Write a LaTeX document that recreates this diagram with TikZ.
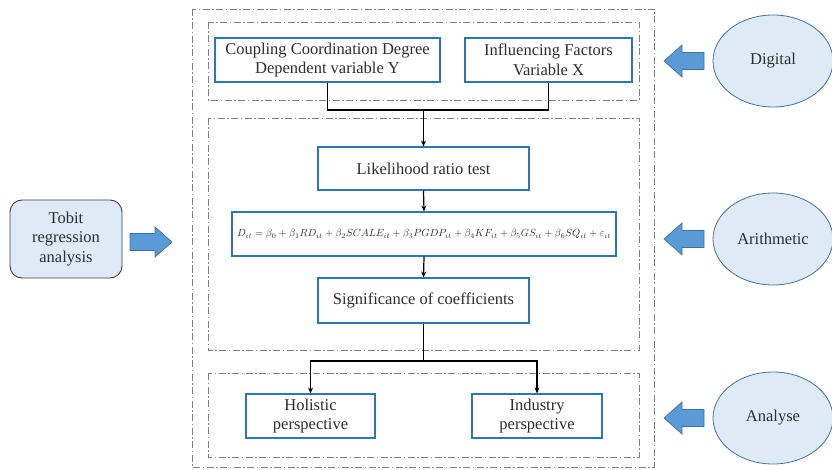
\documentclass[tikz,border=0pt]{standalone}
\usepackage{fontspec}
\usepackage{graphicx}
\setmainfont{Liberation Serif}
\usetikzlibrary{arrows.meta,shapes.geometric}
\definecolor{boxblue}{RGB}{46,117,182}
\definecolor{ellfill}{RGB}{222,235,247}
\definecolor{ellline}{RGB}{65,113,156}
\definecolor{arrfill}{RGB}{91,155,213}
\definecolor{txtgray}{RGB}{45,45,45}
\definecolor{dashgray}{RGB}{128,128,128}
\tikzset{
  bluebox/.style={draw=boxblue, line width=1.1pt, fill=white, align=center, inner sep=0pt,
    font=\rmfamily\fontsize{16.5}{19.5}\selectfont, text=txtgray},
  ellnode/.style={ellipse, draw=ellline, fill=ellfill, line width=0.8pt, minimum width=120pt,
    minimum height=92pt, inner sep=0pt, font=\rmfamily\fontsize{16.5}{19.5}\selectfont, text=txtgray},
  tobitbox/.style={draw=black!75, fill=ellfill, rounded corners=12pt, line width=0.9pt,
    minimum width=112pt, minimum height=78pt, align=center, inner sep=0pt,
    font=\rmfamily\fontsize{16.5}{19.5}\selectfont, text=txtgray},
  dashframe/.style={draw=dashgray, line width=0.9pt, dash pattern=on 7pt off 2.5pt on 1.5pt off 2.5pt},
  conn/.style={draw=black, line width=1.2pt},
  arr/.style={conn, -{Stealth[length=6pt,width=5pt]}},
  blockarr/.style={fill=arrfill, draw=ellline, line width=0.7pt, line join=miter},
}
\begin{document}
\begin{tikzpicture}[x=1pt,y=-1pt]
\useasboundingbox (0,0) rectangle (832,470);
% frames
\draw[dashframe] (192,9) rectangle (654,467);
\draw[dashframe] (208,22) rectangle (639,100);
\draw[dashframe] (208,118) rectangle (639,350);
\draw[dashframe] (208,373) rectangle (639,457);
% boxes
\node[bluebox, minimum width=225pt, minimum height=44pt] (coup) at (327.5,60) {Coupling Coordination Degree\\Dependent variable Y};
\node[bluebox, minimum width=167pt, minimum height=44pt] (infl) at (548.5,60) {Influencing Factors\\Variable X};
\node[bluebox, minimum width=211pt, minimum height=43pt] (lik) at (423.5,168.5) {Likelihood ratio test};
\node[bluebox, minimum width=384pt, minimum height=44pt, font=\fontsize{10}{12}\selectfont] (form) at (424,234)
  {\resizebox{374pt}{!}{$D_{it}=\beta_0+\beta_1RD_{it}+\beta_2SCALE_{it}+\beta_3PGDP_{it}+\beta_4KF_{it}+\beta_5GS_{it}+\beta_6SQ_{it}+\varepsilon_{it}$}};
\node[bluebox, minimum width=211pt, minimum height=45pt] (sig) at (423.5,300.5) {Significance of coefficients};
\node[bluebox, minimum width=129pt, minimum height=44pt] (hol) at (310.5,416) {Holistic\\perspective};
\node[bluebox, minimum width=130pt, minimum height=44pt] (ind) at (537,416) {Industry\\perspective};
% left box
\node[tobitbox] (tobit) at (66,239) {Tobit\\regression\\analysis};
% ellipses
\node[ellnode] (dig) at (773,61) {Digital};
\node[ellnode] (ari) at (773,239) {Arithmetic};
\node[ellnode] (ana) at (773,418) {Analyse};
% connectors
\coordinate (j1) at (423.5,110);
\coordinate (j2) at (423.5,361);
\draw[conn] (coup.south) |- (j1) -| (infl.south);
\draw[arr] (j1) -- (lik.north);
\draw[arr] (lik.south) -- (form.north);
\draw[arr] (form.south) -- (sig.north);
\draw[conn] (sig.south) -- (j2);
\draw[arr] (j2) -| (hol.north);
\draw[arr] (j2) -| (ind.north);
% block arrows
\foreach \yy in {61,239,418}{
  \draw[blockarr] (664,\yy) -- (682,\yy-16) -- (682,\yy-8.5) -- (704,\yy-8.5) -- (704,\yy+8.5) -- (682,\yy+8.5) -- (682,\yy+16) -- cycle;
}
\draw[blockarr] (172,242) -- (155,227) -- (155,233.5) -- (130,233.5) -- (130,250.5) -- (155,250.5) -- (155,257) -- cycle;
\end{tikzpicture}
\end{document}
